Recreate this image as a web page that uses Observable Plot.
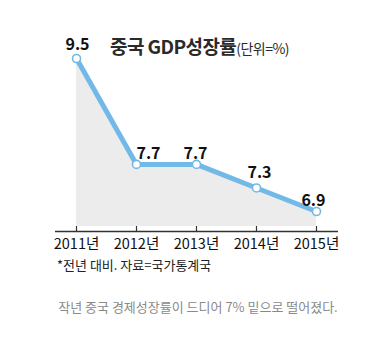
<!DOCTYPE html>
<html><head><meta charset="utf-8">
<script src="https://cdn.jsdelivr.net/npm/d3@7"></script>
<script src="https://cdn.jsdelivr.net/npm/@observablehq/plot@0.6"></script>
<style>
body{margin:0;background:#fff;}
#wrap{position:relative;width:380px;height:353px;overflow:hidden;}
#title{position:absolute;left:110px;top:32px;font-size:19px;font-weight:bold;letter-spacing:-0.6px;color:#2a2a2a;white-space:nowrap;font-family:"Noto Sans CJK KR",sans-serif;}
#title span{font-size:14px;font-weight:normal;letter-spacing:-0.5px;}
#note{position:absolute;left:57px;top:255px;font-size:13px;color:#222;white-space:nowrap;font-family:"Noto Sans CJK KR",sans-serif;}
#cap{position:absolute;left:0;width:396px;text-align:center;top:297px;font-size:13px;color:#8a8a8a;white-space:nowrap;font-family:"Noto Sans CJK KR",sans-serif;}
#chart{position:absolute;left:0;top:0;}
</style></head>
<body><div id="wrap"><div id="chart"></div>
<div id="title">중국 GDP성장률<span>(단위=%)</span></div>
<div id="note">*전년 대비. 자료=국가통계국</div>
<div id="cap">작년 중국 경제성장률이 드디어 7% 밑으로 떨어졌다.</div>
</div>
<script>
const years = [2011, 2012, 2013, 2014, 2015];
const growth = [9.5, 7.7, 7.7, 7.3, 6.9];
const valueLabels = ["9.5", "7.7", "7.7", "7.3", "6.9"];
const tickLabels = ["2011년", "2012년", "2013년", "2014년", "2015년"];
const labelDx = [1, 12, -1, 3, -3];
const labelDy = [-14, -11, -11, -15, -11];

const data = years.map((y, i) => ({year: y, value: growth[i], label: valueLabels[i], tick: tickLabels[i], dx: labelDx[i], dy: labelDy[i]}));
const base = 6.56, areaBase = 6.645;
const font = "'Noto Sans CJK KR',sans-serif";

const chart = Plot.plot({
  width: 380, height: 256,
  marginTop: 58, marginBottom: 25, marginLeft: 55, marginRight: 42,
  x: {domain: [2010.65, 2015.367], axis: null},
  y: {domain: [base, 9.5], axis: null},
  style: {background: "transparent", fontFamily: font},
  marks: [
    Plot.areaY(data, {x: "year", y1: areaBase, y2: "value", fill: "#ececec"}),
    Plot.ruleY([base], {stroke: "#333", strokeWidth: 1.3}),
    Plot.ruleX(data, {x: "year", y1: base, y2: areaBase, stroke: "#333", strokeWidth: 1.2}),
    Plot.line(data, {x: "year", y: "value", stroke: "#73b9e7", strokeWidth: 5, strokeLinejoin: "round"}),
    Plot.dot(data, {x: "year", y: "value", r: 4, fill: "white", stroke: "#73b9e7", strokeWidth: 1.6}),
    ...data.map(d => Plot.text([d], {x: "year", y: "value", text: "label", dx: d.dx, dy: d.dy, fontSize: 16, fontWeight: "bold", fill: "#111", fontFamily: font, letterSpacing: "-0.5px"})),
    Plot.text(data, {x: "year", y: base, text: "tick", dy: 13, fontSize: 14.5, fill: "#111", fontFamily: font, letterSpacing: "-1px"})
  ]
});
document.getElementById("chart").appendChild(chart);
</script>
</body></html>
